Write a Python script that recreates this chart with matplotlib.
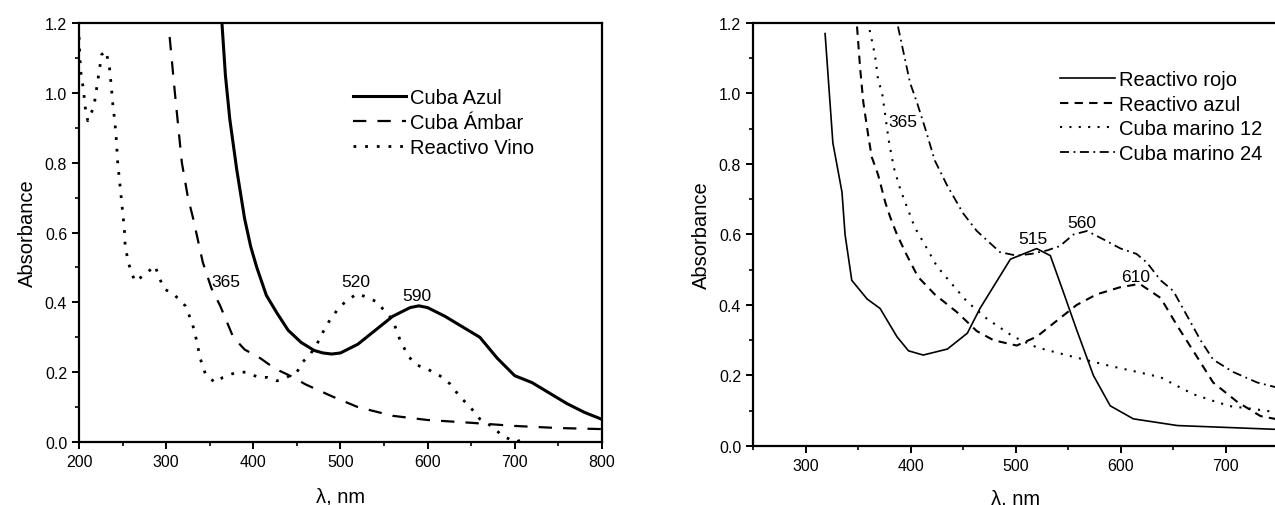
import numpy as np
import matplotlib
matplotlib.use("Agg")
import matplotlib.pyplot as plt

plt.rcParams['font.family'] = ['Liberation Sans', 'DejaVu Sans']

# --- panel A spectra ---
azul_x = [364, 368, 373, 381, 390, 397, 404, 415, 427, 440, 455, 470, 480, 490,
          500, 520, 540, 560, 580, 590, 600, 620, 640, 660, 680, 700, 720, 740,
          760, 780, 800]
azul_y = [1.2, 1.05, 0.925, 0.78, 0.64, 0.56, 0.50, 0.42, 0.37, 0.32, 0.285,
          0.262, 0.255, 0.252, 0.255, 0.28, 0.32, 0.36, 0.385, 0.39, 0.385, 0.36,
          0.33, 0.30, 0.24, 0.19, 0.17, 0.14, 0.11, 0.085, 0.065]

ambar_x = [304, 310, 318, 325, 331, 342, 352, 362, 377, 390, 408, 425, 442, 460,
           491, 520, 560, 600, 650, 700, 750, 800]
ambar_y = [1.16, 1.0, 0.8, 0.7, 0.64, 0.515, 0.44, 0.39, 0.30, 0.265, 0.24, 0.21,
           0.19, 0.165, 0.13, 0.10, 0.075, 0.063, 0.055, 0.046, 0.04, 0.037]

vino_x = [200, 201, 202, 205, 207, 210, 217, 220, 223, 226, 231, 235, 237, 239,
          241, 243, 244, 246, 248, 250, 252, 253, 257, 264, 276, 287, 297, 310,
          322, 330, 335, 339, 345, 356, 365, 381, 392, 406, 416, 427, 438, 450,
          457, 465, 473, 480, 488, 497, 505, 519, 530, 543, 549, 560, 568, 578,
          588, 599, 614, 626, 637, 649, 660, 675, 686, 702, 710]
vino_y = [1.16, 1.10, 1.06, 1.01, 0.96, 0.92, 0.96, 1.01, 1.06, 1.11, 1.12, 1.07,
          1.02, 0.96, 0.92, 0.86, 0.81, 0.76, 0.71, 0.66, 0.61, 0.56, 0.51, 0.46,
          0.48, 0.505, 0.44, 0.42, 0.39, 0.34, 0.29, 0.24, 0.195, 0.17, 0.185, 0.20,
          0.20, 0.185, 0.185, 0.175, 0.185, 0.20, 0.23, 0.25, 0.28, 0.315, 0.35,
          0.38, 0.40, 0.425, 0.415, 0.40, 0.38, 0.35, 0.295, 0.245, 0.22, 0.21,
          0.19, 0.166, 0.13, 0.10, 0.066, 0.043, 0.017, 0.0, 0.01]

# --- panel B spectra ---
rojo_x = [318.6, 326, 334.7, 337.6, 344, 358.6, 371, 387, 398, 412, 435, 454, 466,
          495, 520, 533, 545, 558, 574, 590, 612, 654, 750]
rojo_y = [1.17, 0.86, 0.72, 0.60, 0.47, 0.417, 0.39, 0.31, 0.27, 0.258, 0.275,
          0.32, 0.39, 0.53, 0.56, 0.54, 0.44, 0.33, 0.20, 0.114, 0.077, 0.058, 0.047]

razul_x = [349, 352, 355, 359.7, 363, 369, 376, 380.5, 387, 396.6, 407, 423, 444,
           463, 479, 501, 520, 539, 558, 577, 599, 618, 638, 654, 669, 688, 711,
           733, 750]
razul_y = [1.19, 1.07, 0.975, 0.88, 0.82, 0.77, 0.69, 0.65, 0.60, 0.54, 0.48, 0.43,
           0.38, 0.326, 0.30, 0.285, 0.31, 0.355, 0.40, 0.43, 0.45, 0.46, 0.42,
           0.34, 0.27, 0.18, 0.125, 0.085, 0.075]

m12_x = [361, 366, 369, 373, 379, 384, 390, 395, 404, 415.6, 425, 440.6, 453.6,
         473, 498, 520, 552, 590, 616, 638, 650, 669, 688, 704, 726, 750]
m12_y = [1.18, 1.11, 1.04, 1.0, 0.87, 0.79, 0.73, 0.69, 0.62, 0.56, 0.51, 0.455,
         0.41, 0.36, 0.31, 0.28, 0.255, 0.227, 0.21, 0.195, 0.176, 0.147, 0.128,
         0.113, 0.105, 0.095]

m24_x = [388, 393, 399.5, 406, 414, 423, 434.6, 450, 463, 485, 501, 515, 530, 542,
         555, 568, 583, 600, 615, 625, 638, 650, 663, 676, 688, 707, 730, 750]
m24_y = [1.19, 1.12, 1.03, 0.975, 0.90, 0.81, 0.74, 0.66, 0.61, 0.55, 0.54, 0.545,
         0.555, 0.567, 0.60, 0.61, 0.587, 0.56, 0.545, 0.52, 0.47, 0.44, 0.37, 0.30,
         0.245, 0.21, 0.18, 0.165]

peaks_a = [(365, 368, 0.46), (520, 518, 0.46), (590, 588, 0.42)]
peaks_b = [(365, 393, 0.92), (515, 516, 0.59), (560, 563, 0.635), (610, 614, 0.48)]

fig = plt.figure(figsize=(12.75, 5.06), dpi=100)
ax1 = fig.add_axes([0.062, 0.1245, 0.410, 0.828])
ax2 = fig.add_axes([0.5906, 0.1166, 0.412, 0.836])


def style_axes(ax, xlim, xmajor, xpad):
    ax.set_xlim(*xlim)
    ax.set_ylim(0, 1.2)
    ax.set_xticks(xmajor)
    ax.set_xticks(np.arange(xlim[0], xlim[1] + 1, 50), minor=True)
    ax.set_yticks(np.arange(0, 1.21, 0.2))
    ax.set_yticks(np.arange(0, 1.21, 0.1), minor=True)
    ax.yaxis.set_major_formatter(matplotlib.ticker.FormatStrFormatter('%.1f'))
    ax.tick_params(which='major', direction='out', length=5, width=1.4, labelsize=11.5)
    ax.tick_params(which='minor', direction='out', length=3, width=1.2)
    for s in ax.spines.values():
        s.set_linewidth(1.6)
    ax.set_ylabel('Absorbance', fontsize=14.5, labelpad=6)
    ax.set_xlabel('λ, nm', fontsize=14.5, labelpad=xpad)


style_axes(ax1, (200, 800), np.arange(200, 801, 100), 13)
ax1.plot(azul_x, azul_y, color='black', lw=2.2, label='Cuba Azul')
ax1.plot(ambar_x, ambar_y, color='black', lw=1.6, ls=(0, (6, 5)), label='Cuba Ámbar')
ax1.plot(vino_x, vino_y, color='black', lw=2.0, ls=(0, (1, 3.2)), label='Reactivo Vino')
for txt, x, y in peaks_a:
    ax1.text(x, y, str(txt), fontsize=12.5, ha='center', va='center')
ax1.legend(loc='upper left', bbox_to_anchor=(0.525, 0.844), frameon=False,
           fontsize=14.5, handlelength=2.6, handletextpad=0.2, labelspacing=0.28,
           borderpad=0, borderaxespad=0)

style_axes(ax2, (250, 750), np.arange(300, 701, 100), 11)
ax2.plot(rojo_x, rojo_y, color='black', lw=1.2, label='Reactivo rojo')
ax2.plot(razul_x, razul_y, color='black', lw=1.5, ls=(0, (4, 3)), label='Reactivo azul')
ax2.plot(m12_x, m12_y, color='black', lw=1.5, ls=(0, (1, 3.5)), label='Cuba marino 12')
ax2.plot(m24_x, m24_y, color='black', lw=1.3, ls=(0, (5, 2.5, 1, 2.5)), label='Cuba marino 24')
for txt, x, y in peaks_b:
    ax2.text(x, y, str(txt), fontsize=12.5, ha='center', va='center')
ax2.legend(loc='upper left', bbox_to_anchor=(0.585, 0.888), frameon=False,
           fontsize=14.5, handlelength=2.7, handletextpad=0.2, labelspacing=0.27,
           borderpad=0, borderaxespad=0)

fig.savefig('out.png', dpi=100)
